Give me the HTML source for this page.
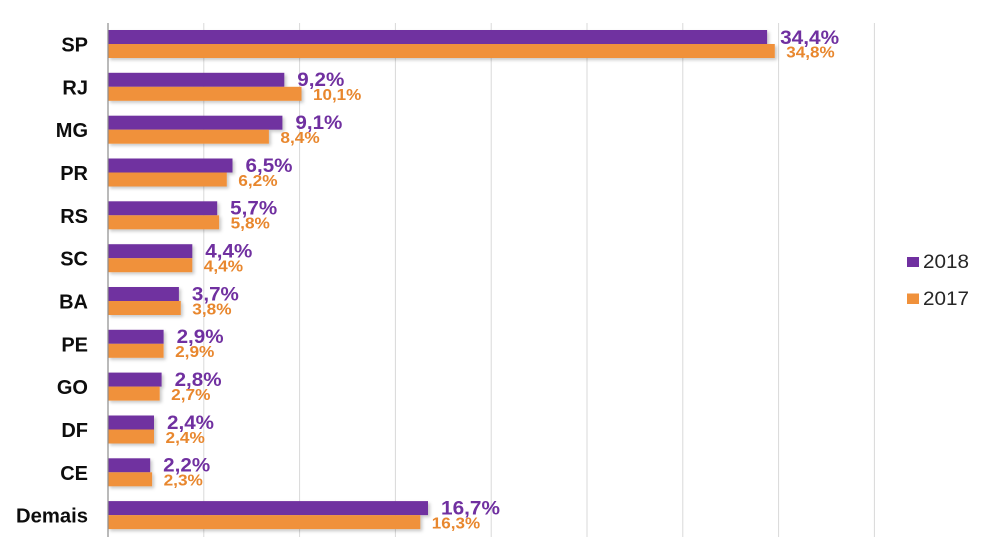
<!DOCTYPE html>
<html><head><meta charset="utf-8"><style>
html,body{margin:0;padding:0;background:#fff;}
svg{display:block;}
.cat{font-family:"Liberation Sans",sans-serif;font-weight:bold;font-size:20px;fill:#0d0d0d;text-anchor:end;}
.pl{font-family:"Liberation Sans",sans-serif;font-weight:bold;font-size:19.5px;fill:#7030A0;}
.ol{font-family:"Liberation Sans",sans-serif;font-weight:bold;font-size:15.5px;fill:#E8872E;}
.lg{font-family:"Liberation Sans",sans-serif;font-size:19px;fill:#262626;}
</style></head><body>
<svg width="991" height="559" viewBox="0 0 991 559" xmlns="http://www.w3.org/2000/svg">
<defs><filter id="sh" x="-5%" y="-20%" width="115%" height="160%"><feDropShadow dx="2" dy="2" stdDeviation="1.5" flood-color="#000" flood-opacity="0.22"/></filter></defs>
<g stroke="#d9d9d9" stroke-width="1">
<line x1="203.8" y1="23" x2="203.8" y2="537"/>
<line x1="299.6" y1="23" x2="299.6" y2="537"/>
<line x1="395.4" y1="23" x2="395.4" y2="537"/>
<line x1="491.2" y1="23" x2="491.2" y2="537"/>
<line x1="587" y1="23" x2="587" y2="537"/>
<line x1="682.8" y1="23" x2="682.8" y2="537"/>
<line x1="778.6" y1="23" x2="778.6" y2="537"/>
<line x1="874.4" y1="23" x2="874.4" y2="537"/>
</g>
<g filter="url(#sh)">
<rect x="108" y="30" width="659.1" height="14" fill="#7030A0"/><rect x="108" y="44" width="666.8" height="14" fill="#F0913B"/>
<rect x="108" y="72.8" width="176.3" height="14" fill="#7030A0"/><rect x="108" y="86.8" width="193.5" height="14" fill="#F0913B"/>
<rect x="108" y="115.7" width="174.4" height="14" fill="#7030A0"/><rect x="108" y="129.7" width="160.9" height="14" fill="#F0913B"/>
<rect x="108" y="158.5" width="124.5" height="14" fill="#7030A0"/><rect x="108" y="172.5" width="118.8" height="14" fill="#F0913B"/>
<rect x="108" y="201.3" width="109.2" height="14" fill="#7030A0"/><rect x="108" y="215.3" width="111.1" height="14" fill="#F0913B"/>
<rect x="108" y="244.2" width="84.3" height="14" fill="#7030A0"/><rect x="108" y="258.2" width="84.3" height="14" fill="#F0913B"/>
<rect x="108" y="287" width="70.9" height="14" fill="#7030A0"/><rect x="108" y="301" width="72.8" height="14" fill="#F0913B"/>
<rect x="108" y="329.8" width="55.6" height="14" fill="#7030A0"/><rect x="108" y="343.8" width="55.6" height="14" fill="#F0913B"/>
<rect x="108" y="372.6" width="53.6" height="14" fill="#7030A0"/><rect x="108" y="386.6" width="51.7" height="14" fill="#F0913B"/>
<rect x="108" y="415.5" width="46" height="14" fill="#7030A0"/><rect x="108" y="429.5" width="46" height="14" fill="#F0913B"/>
<rect x="108" y="458.3" width="42.2" height="14" fill="#7030A0"/><rect x="108" y="472.3" width="44.1" height="14" fill="#F0913B"/>
<rect x="108" y="501.1" width="320" height="14" fill="#7030A0"/><rect x="108" y="515.1" width="312.3" height="14" fill="#F0913B"/>
</g>
<line x1="108" y1="23" x2="108" y2="537" stroke="#8c8c8c" stroke-width="1.2"/>
<text class="cat" x="88" y="51.5">SP</text>
<text class="cat" x="88" y="94.3">RJ</text>
<text class="cat" x="88" y="137.2">MG</text>
<text class="cat" x="88" y="180">PR</text>
<text class="cat" x="88" y="222.8">RS</text>
<text class="cat" x="88" y="265.7">SC</text>
<text class="cat" x="88" y="308.5">BA</text>
<text class="cat" x="88" y="351.3">PE</text>
<text class="cat" x="88" y="394.1">GO</text>
<text class="cat" x="88" y="437">DF</text>
<text class="cat" x="88" y="479.8">CE</text>
<text class="cat" x="88" y="522.6" textLength="72" lengthAdjust="spacingAndGlyphs">Demais</text>

<text class="pl" x="780.1" y="44" textLength="59" lengthAdjust="spacingAndGlyphs">34,4%</text>
<text class="ol" x="786.3" y="57.3" textLength="48.3" lengthAdjust="spacingAndGlyphs">34,8%</text>
<text class="pl" x="297.3" y="86" textLength="47" lengthAdjust="spacingAndGlyphs">9,2%</text>
<text class="ol" x="313" y="100.1" textLength="48.3" lengthAdjust="spacingAndGlyphs">10,1%</text>
<text class="pl" x="295.4" y="129" textLength="47" lengthAdjust="spacingAndGlyphs">9,1%</text>
<text class="ol" x="280.4" y="143" textLength="39.3" lengthAdjust="spacingAndGlyphs">8,4%</text>
<text class="pl" x="245.5" y="171.8" textLength="47" lengthAdjust="spacingAndGlyphs">6,5%</text>
<text class="ol" x="238.3" y="185.8" textLength="39.3" lengthAdjust="spacingAndGlyphs">6,2%</text>
<text class="pl" x="230.2" y="214.6" textLength="47" lengthAdjust="spacingAndGlyphs">5,7%</text>
<text class="ol" x="230.6" y="228.6" textLength="39.3" lengthAdjust="spacingAndGlyphs">5,8%</text>
<text class="pl" x="205.3" y="257.5" textLength="47" lengthAdjust="spacingAndGlyphs">4,4%</text>
<text class="ol" x="203.8" y="271.5" textLength="39.3" lengthAdjust="spacingAndGlyphs">4,4%</text>
<text class="pl" x="191.9" y="300.3" textLength="47" lengthAdjust="spacingAndGlyphs">3,7%</text>
<text class="ol" x="192.3" y="314.3" textLength="39.3" lengthAdjust="spacingAndGlyphs">3,8%</text>
<text class="pl" x="176.6" y="343.1" textLength="47" lengthAdjust="spacingAndGlyphs">2,9%</text>
<text class="ol" x="175.1" y="357.1" textLength="39.3" lengthAdjust="spacingAndGlyphs">2,9%</text>
<text class="pl" x="174.6" y="385.9" textLength="47" lengthAdjust="spacingAndGlyphs">2,8%</text>
<text class="ol" x="171.2" y="399.9" textLength="39.3" lengthAdjust="spacingAndGlyphs">2,7%</text>
<text class="pl" x="167" y="428.8" textLength="47" lengthAdjust="spacingAndGlyphs">2,4%</text>
<text class="ol" x="165.5" y="442.8" textLength="39.3" lengthAdjust="spacingAndGlyphs">2,4%</text>
<text class="pl" x="163.2" y="471.6" textLength="47" lengthAdjust="spacingAndGlyphs">2,2%</text>
<text class="ol" x="163.6" y="485.6" textLength="39.3" lengthAdjust="spacingAndGlyphs">2,3%</text>
<text class="pl" x="441" y="514.4" textLength="59" lengthAdjust="spacingAndGlyphs">16,7%</text>
<text class="ol" x="431.8" y="528.4" textLength="48.3" lengthAdjust="spacingAndGlyphs">16,3%</text>

<rect x="907" y="257" width="12" height="10" fill="#7030A0"/>
<text class="lg" x="923" y="268" textLength="46" lengthAdjust="spacingAndGlyphs">2018</text>
<rect x="907" y="293.5" width="12" height="10.5" fill="#F0913B"/>
<text class="lg" x="923" y="305" textLength="46" lengthAdjust="spacingAndGlyphs">2017</text>
</svg>
</body></html>
